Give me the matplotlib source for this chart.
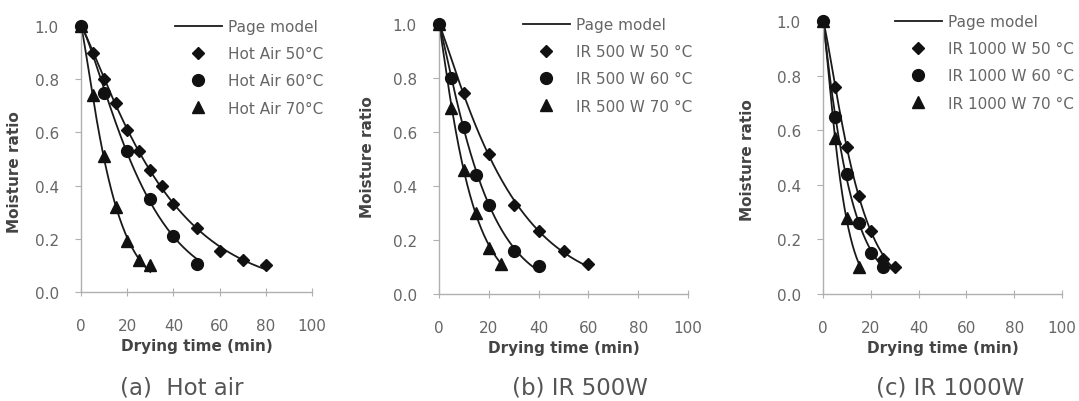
import numpy as np
import matplotlib.pyplot as plt
from matplotlib.lines import Line2D

# (a) hot air
ha_t50 = [0, 5, 10, 15, 20, 25, 30, 35, 40, 50, 60, 70, 80]
ha_mr50 = [1.0, 0.90, 0.80, 0.71, 0.61, 0.53, 0.46, 0.40, 0.33, 0.24, 0.155, 0.12, 0.10]
ha_t60 = [0, 10, 20, 30, 40, 50]
ha_mr60 = [1.0, 0.75, 0.53, 0.35, 0.21, 0.105]
ha_t70 = [0, 5, 10, 15, 20, 25, 30]
ha_mr70 = [1.0, 0.74, 0.51, 0.32, 0.19, 0.12, 0.10]

# (b) IR 500 W
ir5_t50 = [0, 10, 20, 30, 40, 50, 60]
ir5_mr50 = [1.0, 0.745, 0.52, 0.33, 0.235, 0.16, 0.11]
ir5_t60 = [0, 5, 10, 15, 20, 30, 40]
ir5_mr60 = [1.0, 0.80, 0.62, 0.44, 0.33, 0.16, 0.105]
ir5_t70 = [0, 5, 10, 15, 20, 25]
ir5_mr70 = [1.0, 0.69, 0.46, 0.30, 0.17, 0.11]

# (c) IR 1000 W
ir10_t50 = [0, 5, 10, 15, 20, 25, 30]
ir10_mr50 = [1.0, 0.76, 0.54, 0.36, 0.23, 0.13, 0.10]
ir10_t60 = [0, 5, 10, 15, 20, 25]
ir10_mr60 = [1.0, 0.65, 0.44, 0.26, 0.15, 0.10]
ir10_t70 = [0, 5, 10, 15]
ir10_mr70 = [1.0, 0.57, 0.28, 0.10]

xticks = [0, 20, 40, 60, 80, 100]
yticks = [0.0, 0.2, 0.4, 0.6, 0.8, 1.0]
markers = ['D', 'o', '^']
msizes = [6.0, 8.5, 8.0]

W, H = 1079, 402
fig = plt.figure(figsize=(W / 100, H / 100), dpi=100)


def px(x0, x1, ytop, ybot):
    return [x0 / W, 1 - ybot / H, (x1 - x0) / W, (ybot - ytop) / H]


def page_fit(t, mr):
    # Page model MR = exp(-k t^n), least squares by grid search over k, n
    t = np.asarray(t, float)
    mr = np.asarray(mr, float)
    ns = np.linspace(0.5, 1.8, 261)
    ks = np.logspace(-3.5, 0, 701)
    best = (np.inf, 1.0, 0.05)
    for n in ns:
        pred = np.exp(-ks[:, None] * t[None, :] ** n)
        sse = ((pred - mr[None, :]) ** 2).sum(axis=1)
        i = sse.argmin()
        if sse[i] < best[0]:
            best = (sse[i], n, ks[i])
    _, n, k = best
    tt = np.linspace(0, t.max(), 200)
    return tt, np.exp(-k * tt ** n)


panels = [
    dict(rect=px(81, 312, 27, 293),
         series=[(ha_t50, ha_mr50), (ha_t60, ha_mr60), (ha_t70, ha_mr70)],
         labels=['Hot Air 50°C', 'Hot Air 60°C', 'Hot Air 70°C'],
         leg=(175, 20), ylab=(15, 172), cap='(a)  Hot air', capx=182),
    dict(rect=px(439, 688, 25, 295),
         series=[(ir5_t50, ir5_mr50), (ir5_t60, ir5_mr60), (ir5_t70, ir5_mr70)],
         labels=['IR 500 W 50 °C', 'IR 500 W 60 °C', 'IR 500 W 70 °C'],
         leg=(523, 18), ylab=(368, 157), cap='(b) IR 500W', capx=580),
    dict(rect=px(823, 1062, 22, 295),
         series=[(ir10_t50, ir10_mr50), (ir10_t60, ir10_mr60), (ir10_t70, ir10_mr70)],
         labels=['IR 1000 W 50 °C', 'IR 1000 W 60 °C', 'IR 1000 W 70 °C'],
         leg=(895, 15), ylab=(748, 160), cap='(c) IR 1000W', capx=950),
]

for p in panels:
    ax = fig.add_axes(p['rect'])
    for (t, mr), mk, ms in zip(p['series'], markers, msizes):
        tt, yy = page_fit(t, mr)
        ax.plot(tt, yy, color='#1a1a1a', lw=1.3, zorder=2, clip_on=False)
        ax.plot(t, mr, linestyle='none', marker=mk, ms=ms, color='#111111',
                zorder=3, clip_on=False)
    ax.set_xlim(0, 100)
    ax.set_ylim(0, 1.0)
    ax.set_xticks(xticks)
    ax.set_yticks(yticks)
    ax.set_yticklabels([f'{v:.1f}' for v in yticks])
    for s in ['top', 'right']:
        ax.spines[s].set_visible(False)
    for s in ['left', 'bottom']:
        ax.spines[s].set_color('#b0b0b0')
        ax.spines[s].set_linewidth(1.0)
    ax.tick_params(axis='y', direction='out', length=4, pad=12, colors='#b0b0b0',
                   labelcolor='#666666', labelsize=11)
    ax.tick_params(axis='x', direction='inout', length=6, pad=16, colors='#b0b0b0',
                   labelcolor='#666666', labelsize=11)

    x0 = p['rect'][0] * W
    ybot = (1 - p['rect'][1]) * H
    fig.text((x0 + p['rect'][2] * W / 2) / W, 1 - (ybot + 54) / H, 'Drying time (min)',
             ha='center', va='center', fontsize=11, fontweight='bold', color='#444444')
    fig.text(p['ylab'][0] / W, 1 - p['ylab'][1] / H, 'Moisture ratio', rotation=90,
             ha='center', va='center', fontsize=11, fontweight='bold', color='#444444')
    fig.text(p['capx'] / W, 1 - 388 / H, p['cap'], ha='center', va='center',
             fontsize=16.5, color='#555555')

    handles = [Line2D([], [], color='#1a1a1a', lw=1.3)]
    for mk, ms in zip(markers, msizes):
        handles.append(Line2D([], [], linestyle='none', marker=mk, ms=ms, color='#111111'))
    fig.legend(handles, ['Page model'] + p['labels'], loc='upper left',
               bbox_to_anchor=(p['leg'][0] / W, 1 - p['leg'][1] / H),
               frameon=False, fontsize=11, handlelength=3.07, handletextpad=0.4,
               labelspacing=0.8, borderpad=0, borderaxespad=0, labelcolor='#666666')

fig.savefig('out.png', dpi=100)
